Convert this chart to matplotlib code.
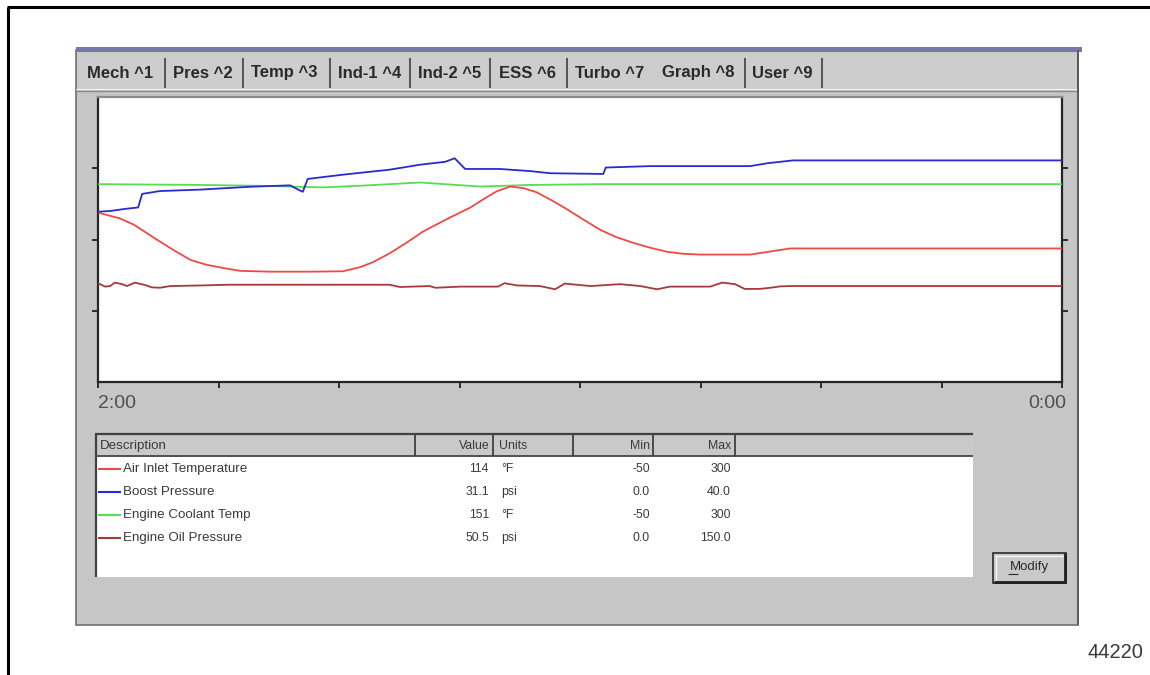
import matplotlib
matplotlib.use("Agg")
import matplotlib.pyplot as plt
import numpy as np
from matplotlib.patches import Rectangle

# ---------------- data ----------------
tab_labels = ["Mech ^1", "Pres ^2", "Temp ^3", "Ind-1 ^4", "Ind-2 ^5", "ESS ^6", "Turbo ^7", "Graph ^8", "User ^9"]

series_names = ["Air Inlet Temperature", "Boost Pressure", "Engine Coolant Temp", "Engine Oil Pressure"]
series_values = ["114", "31.1", "151", "50.5"]
series_units = ["°F", "psi", "°F", "psi"]
series_min_txt = ["-50", "0.0", "-50", "0.0"]
series_max_txt = ["300", "40.0", "300", "150.0"]
scale_min = [-50.0, 0.0, -50.0, 0.0]
scale_max = [300.0, 40.0, 300.0, 150.0]
series_colors = ["#ee4a44", "#2a2ad0", "#55dd55", "#a53a3a"]

# time in seconds since start of the 2:00 window
air_t = [0, 2.7, 4.5, 7.3, 9.4, 11.5, 13.5, 15.6, 17.7, 21.4, 26.4, 30.5, 32.6, 34.2, 36.3, 38.4, 40.5,
         43.8, 46.3, 47.9, 49.6, 51.3, 53.0, 54.6, 56.5, 58.4, 60.5, 62.5, 64.5, 66.6, 68.7, 70.8,
         72.8, 74.9, 81.2, 83.5, 85.3, 86.1, 120]
air_v = [158, 151, 143, 125, 112, 100, 94, 90, 86.5, 85.5, 85.5, 86, 91, 97, 108, 121, 135,
         152, 164, 174, 184, 190, 188, 183, 173, 162, 149, 137, 128, 121, 115, 110,
         107.5, 106.5, 106.5, 110, 112.7, 114, 114]

boost_t = [0, 1.5, 3.4, 5.0, 5.5, 7.7, 12.7, 18.9, 23.9, 25.1, 25.5, 26.1, 30.5, 36.3, 40.1, 43.2,
           44.4, 45.7, 50.0, 53.8, 56.3, 62.9, 63.2, 68.7, 74.9, 81.2, 83.3, 86.5, 120]
boost_v = [23.9, 24.0, 24.3, 24.5, 26.4, 26.8, 27.0, 27.4, 27.6, 26.9, 26.7, 28.5, 29.1, 29.8, 30.5, 30.9,
           31.4, 29.9, 29.9, 29.6, 29.3, 29.2, 30.1, 30.3, 30.3, 30.3, 30.7, 31.1, 31.1]

cool_t = [0, 12.7, 20.0, 28.0, 32.6, 40.1, 47.6, 53.8, 62.5, 120]
cool_v = [193, 192, 191, 189, 191, 195, 190, 192, 193, 193]

oil_t = [0, 0.9, 1.5, 2.1, 3.0, 3.6, 4.6, 5.9, 6.7, 7.7, 9.0, 12.7, 16.4, 36.3, 37.6, 41.3, 42.0,
         45.1, 49.8, 50.6, 52.2, 55.0, 56.9, 58.1, 61.3, 65.0, 67.5, 69.6, 71.2, 76.2, 77.7, 79.3,
         80.5, 82.4, 83.7, 84.9, 86.1, 120]
oil_v = [52.0, 50.2, 50.5, 52.3, 51.5, 50.5, 52.3, 51.0, 49.8, 49.6, 50.5, 50.8, 51.2, 51.2, 50.0, 50.5, 49.6,
         50.2, 50.2, 52.0, 50.8, 50.5, 48.8, 51.8, 50.5, 51.5, 50.5, 48.8, 50.2, 50.2, 52.3, 51.5,
         49.0, 49.0, 49.6, 50.3, 50.5, 50.5]

time_ticks = [0, 15, 30, 45, 60, 75, 90, 105, 120]
time_end_labels = ["2:00", "0:00"]

# ---------------- figure ----------------
W, H = 1150, 675
FONT = "Liberation Sans"
fig = plt.figure(figsize=(W / 100, H / 100), dpi=100)
fig.patch.set_facecolor("white")
bg = fig.add_axes([0, 0, 1, 1])
bg.set_xlim(0, W)
bg.set_ylim(H, 0)
bg.axis("off")


def rect(x0, y0, x1, y1, fc="none", ec="none", lw=0, z=1):
    bg.add_patch(Rectangle((x0, y0), x1 - x0, y1 - y0, facecolor=fc, edgecolor=ec, linewidth=lw, zorder=z))


def line(xs, ys, c, lw=1, z=3):
    bg.plot(xs, ys, color=c, lw=lw, zorder=z, solid_capstyle="butt")


# page frame
line([8, 8], [7, 675], "black", 2.2)
line([7, 1150], [7, 7], "black", 2.2)

# window
rect(76, 50, 1078, 625, fc="#c6c6c6", ec="#707070", lw=1.2)
rect(76, 47, 1082, 52, fc="#7a78aa")
rect(77, 53, 1077, 88, fc="#cdcdcd")
line([76, 1078], [89, 89], "#f2f2f2", 1.0)
line([76, 1078], [91, 91], "#8a8a8a", 1.0)
line([1078, 1078], [50, 625], "#5a5a5a", 1.4)

# tabs
tab_x = [87, 173, 251, 338, 418, 499, 575, 662, 752]
divs = [165, 243, 330, 410, 490, 567, 745, 822]
for x in divs:
    line([x, x], [58, 88], "#4a4a4a", 1.3)
for lbl, x in zip(tab_labels, tab_x):
    bg.text(x, 73, lbl, fontsize=12, fontweight="bold", family=FONT, color="#2a2a2a",
            ha="left", va="center", zorder=4)

# ---------------- plot ----------------
px0, px1, py0, py1 = 98, 1062, 97, 382
ax = fig.add_axes([px0 / W, 1 - py1 / H, (px1 - px0) / W, (py1 - py0) / H])
ax.set_facecolor("white")
ax.set_xlim(time_ticks[0], time_ticks[-1])
ax.set_ylim(0, 1)
ax.set_xticks(time_ticks)
ax.set_yticks([0.25, 0.5, 0.75])
ax.yaxis.set_ticks_position("both")
ax.tick_params(direction="out", length=4, width=1.3, colors="#202020",
               labelbottom=False, labelleft=False, labelright=False)
for s in ["left", "bottom", "right"]:
    ax.spines[s].set_color("#252525")
    ax.spines[s].set_linewidth(1.6)
ax.spines["top"].set_color("#8a8a8a")
ax.spines["top"].set_linewidth(1.6)

all_t = [air_t, boost_t, cool_t, oil_t]
all_v = [air_v, boost_v, cool_v, oil_v]
for i in [2, 0, 3, 1]:
    v = (np.asarray(all_v[i]) - scale_min[i]) / (scale_max[i] - scale_min[i])
    ax.plot(all_t[i], v, color=series_colors[i], lw=1.3, zorder=3)

bg.text(98, 404, time_end_labels[0], fontsize=14, family=FONT, color="#505050", ha="left", va="center")
bg.text(1066, 404, time_end_labels[1], fontsize=14, family=FONT, color="#505050", ha="right", va="center")

# ---------------- table ----------------
rect(95, 433, 973, 577, fc="white", z=1)
rect(95, 433, 973, 456, fc="#c9c9c9", z=2)
line([95, 973], [433.5, 433.5], "#404040", 1.6)
line([95.5, 95.5], [433, 577], "#404040", 1.6)
line([95, 973], [456, 456], "#505050", 1.4)
for x in [415, 493, 573, 653, 735]:
    line([x, x], [433, 456], "#404040", 1.3)

TXT = 9.6
NUM = 8.8
hdr_y = 446
hk = dict(family=FONT, color="#3a3a3a", va="center", zorder=4)
bg.text(100, hdr_y, "Description", fontsize=TXT, ha="left", **hk)
bg.text(490, hdr_y, "Value", fontsize=NUM, ha="right", **hk)
bg.text(499, hdr_y, "Units", fontsize=NUM, ha="left", **hk)
bg.text(650, hdr_y, "Min", fontsize=NUM, ha="right", **hk)
bg.text(731, hdr_y, "Max", fontsize=NUM, ha="right", **hk)

row_y = [469, 492, 515, 538]
for i in range(4):
    y = row_y[i]
    line([98, 121], [y, y], series_colors[i], 1.5, z=4)
    bg.text(123, y, series_names[i], fontsize=TXT, ha="left", **hk)
    bg.text(489, y, series_values[i], fontsize=NUM, ha="right", **hk)
    bg.text(501, y, series_units[i], fontsize=NUM, ha="left", **hk)
    bg.text(650, y, series_min_txt[i], fontsize=NUM, ha="right", **hk)
    bg.text(731, y, series_max_txt[i], fontsize=NUM, ha="right", **hk)

# Modify button
rect(993, 553, 1066, 583, fc="#c9c9c9", ec="#2a2a2a", lw=1.2, z=2)
line([995, 1063], [555.5, 555.5], "#f5f5f5", 1.0, z=3)
line([995.5, 995.5], [555, 580], "#f5f5f5", 1.0, z=3)
line([994, 1066], [582, 582], "#202020", 2.0, z=3)
line([1065, 1065], [553, 583], "#202020", 2.0, z=3)
bg.text(1029, 567, "Modify", fontsize=9.5, family=FONT, color="#2a2a2a", ha="center", va="center", zorder=4)
line([1008, 1018], [574, 574], "#2a2a2a", 0.8, z=4)

# figure number
bg.text(1143, 653, "44220", fontsize=14.5, family=FONT, color="#3a3a3a", ha="right", va="center")

fig.savefig("out.png", dpi=100, facecolor="white")
